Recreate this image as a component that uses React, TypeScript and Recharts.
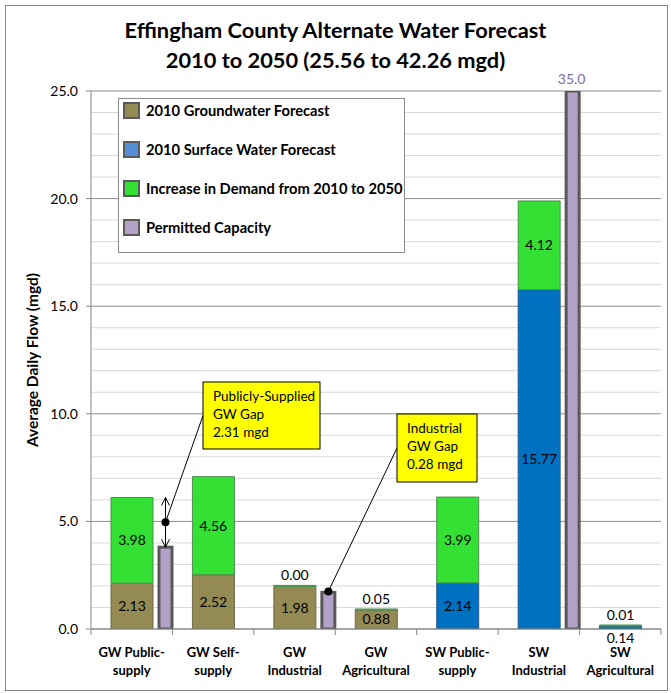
import { BarChart, Bar, XAxis, YAxis, CartesianGrid, Legend, LabelList, ReferenceDot } from "recharts";

const FONT = "Lato, 'Liberation Sans', sans-serif";
const AXIS = "#868686";

// categories and series values (mgd)
const categories = [
  "GW Public-supply",
  "GW Self-supply",
  "GW Industrial",
  "GW Agricultural",
  "SW Public-supply",
  "SW Industrial",
  "SW Agricultural",
];
const categoryLines = [
  ["GW Public-", "supply"],
  ["GW Self-", "supply"],
  ["GW", "Industrial"],
  ["GW", "Agricultural"],
  ["SW Public-", "supply"],
  ["SW", "Industrial"],
  ["SW", "Agricultural"],
];
const groundwater2010 = [2.13, 2.52, 1.98, 0.88, null, null, null];
const surfaceWater2010 = [null, null, null, null, 2.14, 15.77, 0.14];
const demandIncrease = [3.98, 4.56, 0.0, 0.05, 3.99, 4.12, 0.01];
const permittedCapacity = [3.8, null, 1.7, null, null, 35.0, null];

const Y_MAX = 25;
const yTicks = [0, 5, 10, 15, 20, 25];
const minorGrid = Array.from({ length: Y_MAX + 1 }, (_, i) => i).filter((v) => v % 5 !== 0);

const seriesLegend = [
  { name: "2010 Groundwater Forecast", color: "#948A54" },
  { name: "2010 Surface Water Forecast", color: "#558ED5" },
  { name: "Increase in Demand from 2010 to 2050", color: "#33E033" },
  { name: "Permitted Capacity", color: "#B3A2C7" },
];

const gapCallouts = [
  { index: 0, lines: ["Publicly-Supplied", "GW Gap", "2.31 mgd"], box: { x: 203, y: 382, w: 117, h: 67 }, arrow: true },
  { index: 2, lines: ["Industrial", "GW Gap", "0.28 mgd"], box: { x: 397, y: 414, w: 80, h: 68 }, arrow: false },
];

const data = categories.map((name, i) => ({
  name,
  pad: 0,
  gw: groundwater2010[i],
  sw: surfaceWater2010[i],
  inc: demandIncrease[i],
  cap: permittedCapacity[i],
}));

const totalDemand = (i: number) =>
  (groundwater2010[i] ?? 0) + (surfaceWater2010[i] ?? 0) + (demandIncrease[i] ?? 0);

// bar widths: spacer | demand stack | permitted capacity
const MAIN_BAR = 42;
const CAP_BAR = 13;
const BAR_GAP = 6;
const CAP_SHIFT = MAIN_BAR / 2 + BAR_GAP + CAP_BAR / 2 - 0.7;

const MARGIN = { top: 91, right: 10, bottom: 0, left: 0 };

function rectOf(props: any) {
  const vb = props.viewBox ?? props;
  const top = Math.min(vb.y, vb.y + vb.height);
  const bottom = Math.max(vb.y, vb.y + vb.height);
  return { cx: vb.x + vb.width / 2, top, bottom };
}

// value label centered in a segment; tiny segments get it outside
const segmentLabel = (small: "above" | "below") => (props: any) => {
  const { value, index } = props;
  if (value == null) return null;
  const { cx, top, bottom } = rectOf(props);
  let y = (top + bottom) / 2;
  if (value < 0.5) y = small === "above" ? top - 10 : bottom + 9;
  return (
    <text key={`l-${index}`} x={cx} y={y} dy="0.35em" textAnchor="middle" fontSize={14} fontFamily={FONT} fill="#000">
      {Number(value).toFixed(2)}
    </text>
  );
};

const calloutLabel = (props: any) => {
  const { value, index } = props;
  const callout = gapCallouts.find((c) => c.index === index);
  if (value == null || !callout) return null;
  const { cx, top, bottom } = rectOf(props);
  const perUnit = (bottom - top) / value;
  const demandTop = bottom - totalDemand(index) * perUnit;
  const dotY = callout.arrow ? (demandTop + top) / 2 : top - 1;
  const { box } = callout;
  return (
    <g key={`callout-${index}`}>
      {callout.arrow && (
        <g stroke="#000" strokeWidth={1} fill="none">
          <line x1={cx} x2={cx} y1={demandTop} y2={top} />
          <polyline points={`${cx - 4},${demandTop + 8} ${cx},${demandTop} ${cx + 4},${demandTop + 8}`} />
          <polyline points={`${cx - 4},${top - 8} ${cx},${top} ${cx + 4},${top - 8}`} />
        </g>
      )}
      <line x1={cx} y1={dotY} x2={box.x} y2={box.y + box.h / 2} stroke="#000" strokeWidth={1} />
      <circle cx={cx} cy={dotY} r={4} fill="#000" />
      <rect x={box.x} y={box.y} width={box.w} height={box.h} fill="#FFFF00" stroke="#000" strokeWidth={1} />
      {callout.lines.map((l, i) => (
        <text key={i} x={box.x + 10} y={box.y + 19 + i * 18} fontSize={13.5} fontFamily={FONT} fill="#000">
          {l}
        </text>
      ))}
    </g>
  );
};

// permitted capacity bar, kept inside the plot when it runs past the axis max
const CapacityShape = (props: any) => {
  const { x, y, width, height, background } = props;
  if (!height || height <= 0) return null;
  const plotTop = background?.y ?? MARGIN.top;
  const top = y < plotTop ? plotTop + 1.5 : y;
  return (
    <rect x={x} y={top} width={width} height={y + height - top} fill="#B3A2C7" stroke="#595959" strokeWidth={3} />
  );
};

const CategoryTick = (props: any) => {
  const { x, y, payload } = props;
  const i = categories.indexOf(payload.value);
  const half = payload.offset ?? 570 / categories.length / 2;
  const lines = categoryLines[i] ?? [String(payload.value)];
  return (
    <g>
      <line x1={x - half} x2={x - half} y1={y} y2={y + 6} stroke={AXIS} />
      {i === categories.length - 1 && <line x1={x + half} x2={x + half} y1={y} y2={y + 6} stroke={AXIS} />}
      {lines.map((l, k) => (
        <text key={k} x={x} y={y + 28 + k * 18} textAnchor="middle" fontSize={13} fontWeight="bold" fontFamily={FONT} fill="#000">
          {l}
        </text>
      ))}
    </g>
  );
};

const LegendBox = () => (
  <div
    style={{
      width: 287,
      height: 155,
      boxSizing: "border-box",
      border: "1px solid #8c8c8c",
      background: "#fff",
      position: "relative",
      fontFamily: FONT,
    }}
  >
    {seriesLegend.map((s, i) => (
      <div
        key={s.name}
        style={{ position: "absolute", left: 4, top: 11 + i * 39 - 9, height: 18, display: "flex", alignItems: "center" }}
      >
        <span
          style={{
            width: 17,
            height: 17,
            boxSizing: "border-box",
            border: "2.5px solid #5a5a5a",
            background: s.color,
            display: "inline-block",
            flex: "none",
          }}
        />
        <span style={{ marginLeft: 6, fontSize: 14.7, fontWeight: "bold", color: "#000", whiteSpace: "nowrap" }}>{s.name}</span>
      </div>
    ))}
  </div>
);

export default function App() {
  return (
    <div style={{ position: "absolute", left: 0, top: 0, width: 671, height: 693, background: "#fff" }}>
      <div
        style={{
          position: "absolute",
          left: 5,
          top: 5,
          width: 663,
          height: 686,
          boxSizing: "border-box",
          border: `1px solid ${AXIS}`,
        }}
      />
      <div
        style={{
          position: "absolute",
          left: 0,
          top: 15,
          width: 671,
          textAlign: "center",
          fontFamily: FONT,
          fontWeight: "bold",
          fontSize: 21.8,
          lineHeight: "30px",
          color: "#000",
        }}
      >
        <div>Effingham County Alternate Water Forecast</div>
        <div>2010 to 2050 (25.56 to 42.26 mgd)</div>
      </div>
      <div style={{ position: "absolute", left: 0, top: 0 }}>
        <BarChart width={671} height={693} data={data} margin={MARGIN} barGap={BAR_GAP}>
          <CartesianGrid vertical={false} horizontalValues={minorGrid} stroke="#d9d9d9" />
          <CartesianGrid vertical={false} horizontalValues={yTicks} stroke="#8c8c8c" />
          <XAxis
            dataKey="name"
            interval={0}
            height={64}
            tickLine={false}
            tickSize={0}
            tickMargin={0}
            axisLine={{ stroke: AXIS }}
            tick={<CategoryTick />}
          />
          <YAxis
            domain={[0, Y_MAX]}
            ticks={yTicks}
            allowDataOverflow
            interval={0}
            width={91}
            tickSize={5}
            tickMargin={8}
            tickFormatter={(v: number) => v.toFixed(1)}
            tick={{ fontSize: 14, fill: "#000", fontFamily: FONT }}
            axisLine={{ stroke: AXIS }}
            tickLine={{ stroke: AXIS }}
            label={{
              content: (p: any) => {
                const vb = p.viewBox;
                const x = vb.x + 33;
                const y = vb.y + vb.height / 2;
                return (
                  <text
                    x={x}
                    y={y}
                    transform={`rotate(-90 ${x} ${y})`}
                    textAnchor="middle"
                    dy="0.35em"
                    fontSize={15.5}
                    fontWeight="bold"
                    fontFamily={FONT}
                    fill="#000"
                  >
                    Average Daily Flow (mgd)
                  </text>
                );
              },
            }}
          />
          <YAxis
            yAxisId="frame"
            orientation="right"
            domain={[0, Y_MAX]}
            width={0}
            tick={false}
            tickLine={false}
            axisLine={{ stroke: AXIS }}
          />
          <Legend
            layout="vertical"
            align="center"
            verticalAlign="middle"
            content={() => <LegendBox />}
            wrapperStyle={{ left: 118, top: 98, width: 287, height: 155 }}
          />
          <Bar dataKey="pad" stackId="pad" barSize={CAP_BAR} fill="none" legendType="none" isAnimationActive={false} />
          <Bar dataKey="gw" stackId="main" barSize={MAIN_BAR} fill="#948A54" stroke="#6f6a4a" strokeWidth={1} isAnimationActive={false}>
            <LabelList dataKey="gw" content={segmentLabel("below")} />
          </Bar>
          <Bar dataKey="sw" stackId="main" barSize={MAIN_BAR} fill="#0070C0" stroke="#2a5f8f" strokeWidth={1} isAnimationActive={false}>
            <LabelList dataKey="sw" content={segmentLabel("below")} />
          </Bar>
          <Bar
            dataKey="inc"
            stackId="main"
            barSize={MAIN_BAR}
            minPointSize={1}
            fill="#33E033"
            stroke="#4d8f4d"
            strokeWidth={1}
            isAnimationActive={false}
          >
            <LabelList dataKey="inc" content={segmentLabel("above")} />
          </Bar>
          <Bar dataKey="cap" stackId="cap" barSize={CAP_BAR} shape={<CapacityShape />} isAnimationActive={false}>
            <LabelList dataKey="cap" content={calloutLabel} />
          </Bar>
          {data
            .filter((d) => d.cap != null && d.cap > Y_MAX)
            .map((d) => (
              <ReferenceDot
                key={d.name}
                x={d.name}
                y={Y_MAX}
                r={0}
                fill="none"
                stroke="none"
                ifOverflow="visible"
                label={{
                  content: (p: any) => (
                    <text
                      x={p.viewBox.x + CAP_SHIFT}
                      y={p.viewBox.y - 7}
                      textAnchor="middle"
                      fontSize={14}
                      fontFamily={FONT}
                      fill="#7B6C9C"
                    >
                      {Number(d.cap).toFixed(1)}
                    </text>
                  ),
                }}
              />
            ))}
        </BarChart>
      </div>
    </div>
  );
}
